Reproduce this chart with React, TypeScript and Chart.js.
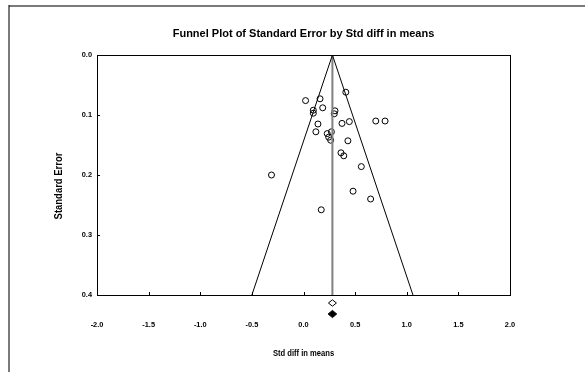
import React, { useEffect, useRef } from 'react';
import { Chart, registerables } from 'chart.js';

Chart.register(...registerables);

const chartTitle = 'Funnel Plot of Standard Error by Std diff in means';
const xAxisTitle = 'Std diff in means';
const yAxisTitle = 'Standard Error';

const xTickValues = [-2.0, -1.5, -1.0, -0.5, 0.0, 0.5, 1.0, 1.5, 2.0];
const yTickValues = [0.0, 0.1, 0.2, 0.3, 0.4];

// Studies: effect size (Std diff in means) and standard error
const studyEffect = [
  0.02, 0.16, 0.41, 0.095, 0.095, 0.186, 0.305, 0.298, 0.14, 0.373, 0.444, 0.70, 0.79,
  0.12, 0.23, 0.27, 0.244, 0.263, 0.43, 0.363, 0.39, 0.56, -0.31, 0.48, 0.65, 0.172,
];
const studySE = [
  0.076, 0.073, 0.062, 0.092, 0.097, 0.088, 0.093, 0.098, 0.115, 0.114, 0.111, 0.110, 0.110,
  0.128, 0.131, 0.128, 0.137, 0.142, 0.143, 0.163, 0.168, 0.186, 0.200, 0.227, 0.240, 0.258,
];

// Funnel (95% limits) and summary line
const funnelX = [-0.50, 0.28, 1.06];
const funnelY = [0.4, 0.0, 0.4];
const centerX = [0.28, 0.28];
const centerY = [0.0, 0.4];

// Summary effects shown below the axis: observed (open) and imputed (filled)
const summaryObserved = 0.28;
const summaryImputed = 0.28;

const FAMILY = '"Liberation Sans", Arial, sans-serif';

const toPts = (xs: number[], ys: number[]) => xs.map((x, i) => ({ x, y: ys[i] }));

const framePlugin = {
  id: 'framePlugin',
  beforeDraw(chart: any) {
    const ctx = chart.ctx;
    ctx.save();
    ctx.fillStyle = '#ffffff';
    ctx.fillRect(0, 0, chart.width, chart.height);
    ctx.restore();
  },
  afterDraw(chart: any) {
    const ctx = chart.ctx;
    const { left, right, top, bottom } = chart.chartArea;
    const xs = chart.scales.x;
    const ys = chart.scales.y;
    ctx.save();
    // outer frame
    ctx.strokeStyle = '#7a7a7a';
    ctx.lineWidth = 2;
    ctx.beginPath();
    ctx.moveTo(9, 6);
    ctx.lineTo(chart.width, 6);
    ctx.stroke();
    ctx.strokeStyle = '#222';
    ctx.lineWidth = 1.2;
    ctx.beginPath();
    ctx.moveTo(9, chart.height);
    ctx.lineTo(9, 5);
    ctx.stroke();
    // plot box
    ctx.strokeStyle = '#000';
    ctx.lineWidth = 1;
    ctx.strokeRect(Math.round(left) + 0.5, Math.round(top) + 0.5, Math.round(right - left), Math.round(bottom - top));
    // inward ticks
    ctx.beginPath();
    xTickValues.forEach((v) => {
      const px = Math.round(xs.getPixelForValue(v)) + 0.5;
      ctx.moveTo(px, bottom);
      ctx.lineTo(px, bottom - 3);
    });
    yTickValues.forEach((v) => {
      const py = Math.round(ys.getPixelForValue(v)) + 0.5;
      ctx.moveTo(left, py);
      ctx.lineTo(left + 3, py);
    });
    ctx.stroke();
    // summary diamonds below axis
    const drawDiamond = (cx: number, cy: number, rw: number, rh: number, filled: boolean) => {
      ctx.beginPath();
      ctx.moveTo(cx - rw, cy);
      ctx.lineTo(cx, cy - rh);
      ctx.lineTo(cx + rw, cy);
      ctx.lineTo(cx, cy + rh);
      ctx.closePath();
      ctx.fillStyle = filled ? '#000' : '#fff';
      ctx.fill();
      ctx.strokeStyle = '#000';
      ctx.lineWidth = 1;
      ctx.stroke();
    };
    drawDiamond(xs.getPixelForValue(summaryObserved), bottom + 8, 4, 3.2, false);
    drawDiamond(xs.getPixelForValue(summaryImputed), bottom + 19, 4.3, 3.6, true);
    // title
    ctx.fillStyle = '#000';
    ctx.font = 'bold 11px ' + FAMILY;
    ctx.textAlign = 'center';
    ctx.textBaseline = 'middle';
    ctx.fillText(chartTitle, (left + right) / 2, 34);
    // x axis title (slightly condensed)
    ctx.save();
    ctx.translate((left + right) / 2, 353);
    ctx.scale(0.8, 1);
    ctx.font = 'bold 9.5px ' + FAMILY;
    ctx.fillText(xAxisTitle, 0, 0);
    ctx.restore();
    // y axis title (slightly condensed)
    ctx.save();
    ctx.translate(59, 186);
    ctx.rotate(-Math.PI / 2);
    ctx.scale(0.86, 1);
    ctx.font = 'bold 11px ' + FAMILY;
    ctx.fillText(yAxisTitle, 0, 0);
    ctx.restore();
    ctx.restore();
  },
};

export default function App() {
  const canvasRef = useRef<HTMLCanvasElement>(null);

  useEffect(() => {
    const canvas = canvasRef.current;
    if (!canvas) return;
    const tickFont = { family: FAMILY, size: 7.4, weight: 'bold' as const };
    const chart = new Chart(canvas, {
      type: 'scatter',
      data: {
        datasets: [
          {
            label: 'Funnel',
            data: toPts(funnelX, funnelY),
            showLine: true,
            borderColor: '#000',
            borderWidth: 1,
            pointRadius: 0,
            fill: false,
          },
          {
            label: 'Summary',
            data: toPts(centerX, centerY),
            showLine: true,
            borderColor: '#808080',
            borderWidth: 2,
            pointRadius: 0,
            fill: false,
          },
          {
            label: 'Studies',
            data: toPts(studyEffect, studySE),
            showLine: false,
            pointStyle: 'circle',
            pointRadius: 3,
            borderColor: '#000',
            borderWidth: 1,
            backgroundColor: 'rgba(0,0,0,0)',
          },
        ],
      },
      options: {
        animation: false,
        responsive: false,
        events: [],
        layout: { padding: { top: 55, left: 54, right: 75, bottom: 14 } },
        plugins: {
          legend: { display: false },
          tooltip: { enabled: false },
          title: { display: false },
        },
        scales: {
          x: {
            type: 'linear',
            min: -2,
            max: 2,
            grid: { display: false, drawTicks: false },
            border: { display: false },
            afterFit: (s: any) => { s.height = 63; },
            afterBuildTicks: (s: any) => { s.ticks = xTickValues.map((v) => ({ value: v })); },
            ticks: {
              font: tickFont,
              color: '#000',
              padding: 26,
              maxRotation: 0,
              callback: (v: any) => Number(v).toFixed(1),
            },
            title: { display: false },
          },
          y: {
            type: 'linear',
            reverse: true,
            min: 0,
            max: 0.4,
            grid: { display: false, drawTicks: false },
            border: { display: false },
            afterFit: (s: any) => { s.width = 43; },
            afterBuildTicks: (s: any) => { s.ticks = yTickValues.map((v) => ({ value: v })); },
            ticks: {
              font: tickFont,
              color: '#000',
              padding: 5,
              callback: (v: any) => Number(v).toFixed(1),
            },
            title: { display: false },
          },
        },
      },
      plugins: [framePlugin],
    });
    return () => chart.destroy();
  }, []);

  return (
    <div style={{ position: 'absolute', left: 0, top: 0, width: 585, height: 372, background: '#fff' }}>
      <canvas ref={canvasRef} width={585} height={372} style={{ display: 'block', width: 585, height: 372 }} />
    </div>
  );
}
